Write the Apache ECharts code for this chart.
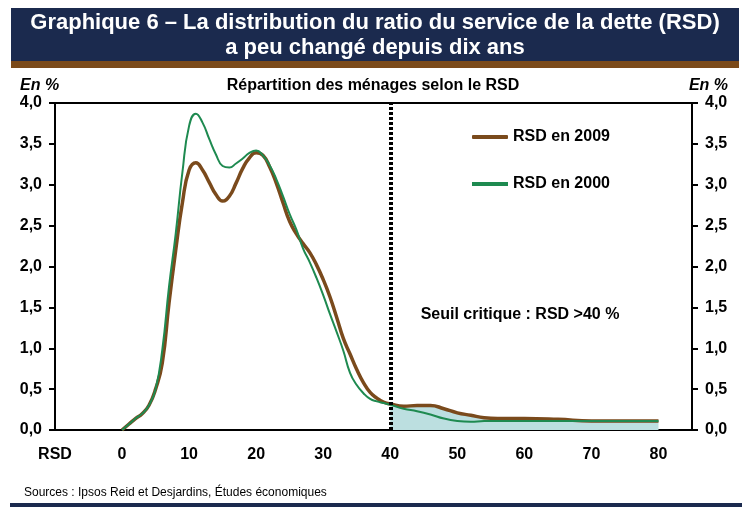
<!DOCTYPE html>
<html>
<head>
<meta charset="utf-8">
<script src="https://cdn.jsdelivr.net/npm/echarts@6/dist/echarts.min.js"></script>
<style>
  html, body { margin: 0; padding: 0; background: #fff; }
  #chart { width: 748px; height: 517px; }
</style>
</head>
<body>
<div id="chart"></div>
<script>
// RSD (ratio du service de la dette), en %
const rsd = [0, 1, 2, 3, 4, 5, 6, 7, 8, 9, 10, 11, 12, 13, 14, 15, 16, 17, 18, 19, 20,
  21, 22, 23, 24, 25, 26, 27, 28, 29, 30, 31, 32, 33, 34, 35, 36, 37, 38, 39, 40,
  42, 44, 46, 48, 50, 52, 54, 56, 58, 60, 65, 70, 75, 80]
// part des ménages (%)
const rsd2009 = [0, 0.07, 0.14, 0.2, 0.3, 0.5, 0.82, 1.55, 2.2, 2.78, 3.18, 3.27, 3.18, 3.03, 2.88, 2.8, 2.86, 3.02, 3.2, 3.33, 3.39,
  3.36, 3.22, 3.02, 2.78, 2.55, 2.4, 2.28, 2.17, 2.02, 1.84, 1.63, 1.38, 1.12, 0.93, 0.74, 0.58, 0.46, 0.39, 0.34, 0.32,
  0.29, 0.3, 0.3, 0.26, 0.21, 0.18, 0.15, 0.14, 0.14, 0.14, 0.13, 0.11, 0.11, 0.11]
const rsd2000 = [0, 0.07, 0.14, 0.2, 0.3, 0.5, 0.98, 1.75, 2.4, 3.15, 3.72, 3.87, 3.76, 3.56, 3.37, 3.23, 3.21, 3.26, 3.32, 3.39, 3.42,
  3.36, 3.24, 3.07, 2.86, 2.64, 2.45, 2.22, 2.05, 1.86, 1.65, 1.42, 1.2, 0.97, 0.7, 0.55, 0.45, 0.38, 0.35, 0.33, 0.31,
  0.26, 0.23, 0.19, 0.14, 0.11, 0.1, 0.11, 0.11, 0.11, 0.11, 0.11, 0.11, 0.11, 0.11]
const seuil = 40
const xTicks = [-10, 0, 10, 20, 30, 40, 50, 60, 70, 80]

const pairs = (ys) => rsd.map((x, i) => [x, ys[i]])
const zone = pairs(rsd2009).filter(p => p[0] >= seuil)

const navy = '#1b2a4e'
const brown = '#7a4a1c'
const green = '#1e8a50'
const font = 'Liberation Sans, Arial, sans-serif'

const fmtY = v => v.toFixed(1).replace('.', ',')
const yAxisCommon = {
  type: 'value',
  min: 0,
  max: 4,
  interval: 0.5,
  axisLine: { show: true, onZero: false, lineStyle: { color: '#000', width: 2 } },
  axisTick: { show: true, length: 6, lineStyle: { color: '#000', width: 2 } },
  splitLine: { show: false },
  axisLabel: { formatter: fmtY, color: '#000', fontWeight: 'bold', fontSize: 16, fontFamily: font, margin: 13 }
}

let myChart = echarts.init(document.getElementById('chart'))
myChart.setOption({
  animation: false,
  backgroundColor: '#fff',
  grid: { left: 55, right: 56, top: 103, bottom: 87, show: true, borderColor: '#000', borderWidth: 2 },
  legend: {
    orient: 'vertical',
    left: 467,
    top: 124,
    itemWidth: 36,
    itemHeight: 4,
    itemGap: 31,
    data: [
      { name: 'RSD en 2009', icon: 'roundRect' },
      { name: 'RSD en 2000', icon: 'rect' }
    ],
    textStyle: { color: '#000', fontWeight: 'bold', fontSize: 16, fontFamily: font }
  },
  xAxis: {
    type: 'value',
    min: -10,
    max: 85,
    interval: 10,
    axisLine: { show: true, onZero: false, lineStyle: { color: '#000', width: 2 } },
    axisTick: { show: false },
    splitLine: { show: false },
    axisLabel: {
      color: '#000', fontWeight: 'bold', fontSize: 16, fontFamily: font, margin: 17,
      showMaxLabel: false,
      formatter: v => xTicks.indexOf(v) < 0 ? '' : (v === -10 ? 'RSD' : String(v))
    }
  },
  yAxis: [
    Object.assign({ position: 'left' }, yAxisCommon),
    Object.assign({ position: 'right' }, yAxisCommon)
  ],
  series: [
    {
      name: 'zone',
      type: 'line',
      smooth: true,
      symbol: 'none',
      data: zone,
      lineStyle: { width: 0 },
      areaStyle: { color: '#bcdfe0', opacity: 1 },
      silent: true,
      z: 1
    },
    {
      name: 'RSD en 2009',
      type: 'line',
      smooth: true,
      symbol: 'none',
      data: pairs(rsd2009),
      color: brown,
      lineStyle: { color: brown, width: 3.5 },
      z: 3
    },
    {
      name: 'RSD en 2000',
      type: 'line',
      smooth: true,
      symbol: 'none',
      data: pairs(rsd2000),
      color: green,
      lineStyle: { color: green, width: 2 },
      z: 4,
      markLine: {
        silent: true,
        symbol: 'none',
        label: { show: false },
        lineStyle: { color: '#000', width: 4, type: [3, 2] },
        data: [{ xAxis: seuil }]
      }
    }
  ],
  graphic: [
    { type: 'rect', shape: { x: 11, y: 8, width: 728, height: 53 }, style: { fill: navy } },
    { type: 'rect', shape: { x: 11, y: 61, width: 728, height: 7 }, style: { fill: '#7b4a1a' } },
    {
      type: 'text', x: 375, y: 23,
      style: {
        text: 'Graphique 6 – La distribution du ratio du service de la dette (RSD)',
        fill: '#fff', font: 'bold 22px ' + font, align: 'center', verticalAlign: 'middle',
        textShadowColor: '#000', textShadowOffsetX: 2, textShadowOffsetY: 2, textShadowBlur: 0
      }
    },
    {
      type: 'text', x: 375, y: 48,
      style: {
        text: 'a peu changé depuis dix ans',
        fill: '#fff', font: 'bold 22px ' + font, align: 'center', verticalAlign: 'middle',
        textShadowColor: '#000', textShadowOffsetX: 2, textShadowOffsetY: 2, textShadowBlur: 0
      }
    },
    { type: 'text', x: 20, y: 86, style: { text: 'En %', fill: '#000', font: 'italic bold 16px ' + font, verticalAlign: 'middle' } },
    { type: 'text', x: 728, y: 86, style: { text: 'En %', fill: '#000', font: 'italic bold 16px ' + font, align: 'right', verticalAlign: 'middle' } },
    { type: 'text', x: 373, y: 86, style: { text: 'Répartition des ménages selon le RSD', fill: '#000', font: 'bold 16px ' + font, align: 'center', verticalAlign: 'middle' } },
    { type: 'text', x: 520, y: 315, style: { text: 'Seuil critique : RSD >40 %', fill: '#000', font: 'bold 16px ' + font, align: 'center', verticalAlign: 'middle' } },
    { type: 'text', x: 24, y: 493, style: { text: 'Sources : Ipsos Reid et Desjardins, Études économiques', fill: '#000', font: '12px ' + font, verticalAlign: 'middle' } },
    { type: 'rect', shape: { x: 10, y: 503, width: 732, height: 4 }, style: { fill: navy } }
  ]
})
</script>
</body>
</html>
